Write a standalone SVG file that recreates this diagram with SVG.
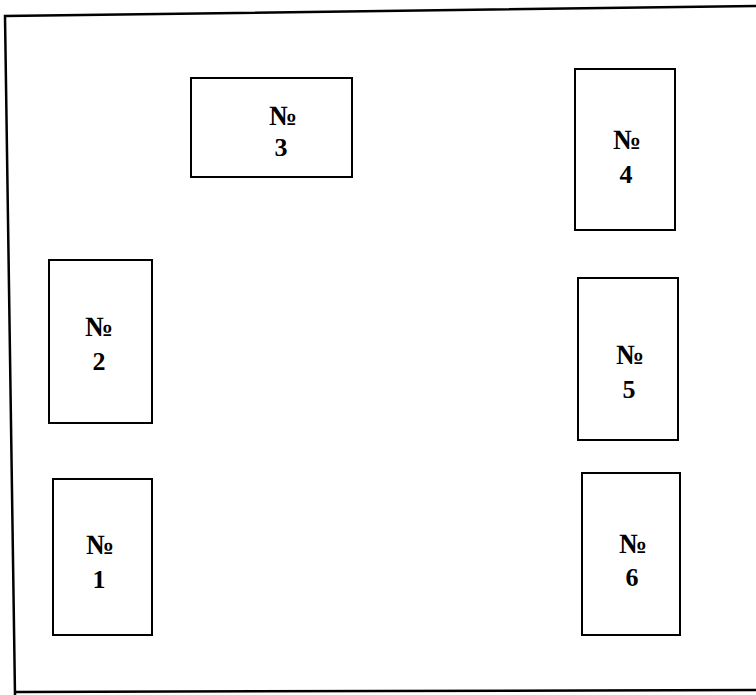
<svg xmlns="http://www.w3.org/2000/svg" width="756" height="695" viewBox="0 0 756 695">
<style>
.box{fill:#fff;stroke:#000;stroke-width:2}
.frame{fill:none;stroke:#000;stroke-width:2.5}
.t{font-family:"Liberation Serif","Times New Roman",serif;font-weight:bold;font-size:26px;text-anchor:middle;fill:#000}
.n{font-size:28px}
</style>
<rect width="756" height="695" fill="#fff"/>
<path class="frame" d="M756,6 L5,16 L15,695 M15,692 L756,690"/>
<g id="node3"><rect class="box" x="191" y="78" width="161" height="99"/><text class="t n" x="283" y="125">№</text><text class="t" x="281" y="156">3</text></g>
<g id="node4"><rect class="box" x="575" y="69" width="100" height="161"/><text class="t n" x="627" y="149">№</text><text class="t" x="626" y="183">4</text></g>
<g id="node2"><rect class="box" x="49" y="260" width="103" height="163"/><text class="t n" x="99" y="336">№</text><text class="t" x="99" y="370">2</text></g>
<g id="node1"><rect class="box" x="53" y="479" width="99" height="156"/><text class="t n" x="100" y="554">№</text><text class="t" x="99" y="588">1</text></g>
<g id="node5"><rect class="box" x="578" y="278" width="100" height="162"/><text class="t n" x="630" y="364">№</text><text class="t" x="629" y="398">5</text></g>
<g id="node6"><rect class="box" x="582" y="473" width="98" height="162"/><text class="t n" x="633" y="553">№</text><text class="t" x="632" y="586">6</text></g>
<g id="connectors"></g>
</svg>
